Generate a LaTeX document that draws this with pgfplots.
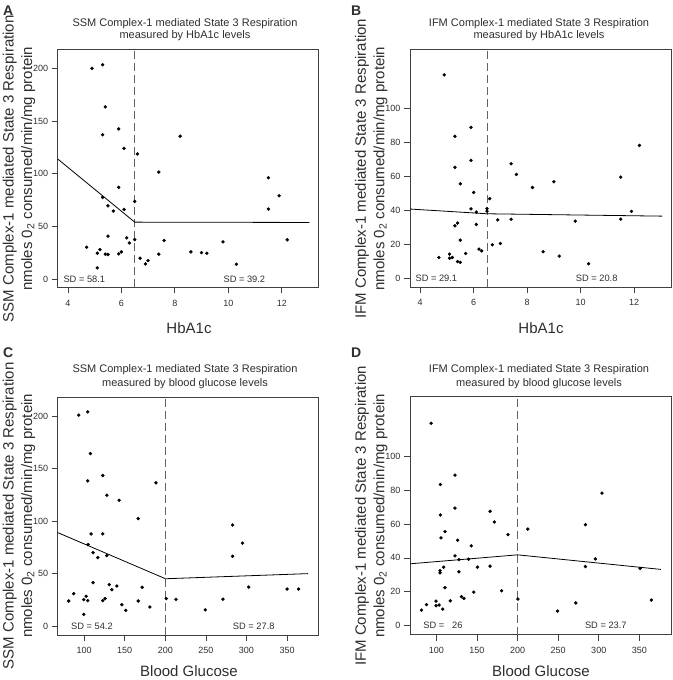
\documentclass[border=0pt]{standalone}
\usepackage{fontspec}
\setmainfont{Liberation Sans}
\usepackage{pgfplots}
\pgfplotsset{compat=1.18}
\definecolor{axgray}{HTML}{404040}
\definecolor{txtgray}{HTML}{2E2E2E}
\pgfplotsset{
  panel/.style={
    scale only axis, width=261pt, height=238pt,
    axis line style={axgray, line width=0.8pt},
    tick style={axgray, line width=0.7pt},
    tick align=outside, major tick length=6pt,
    xtick pos=left, ytick pos=left,
    tick label style={font=\fontsize{9}{10}\selectfont, text=txtgray},
    /pgf/number format/assume math mode=true,
    yticklabel style={xshift=0pt},
    xticklabel style={yshift=-3pt},
  },
  pts/.style={only marks, mark=*, mark size=1.5pt, black},
  fitline/.style={black, line width=0.8pt, no marks},
  vdash/.style={black!62, line width=1pt, dash pattern=on 8pt off 4pt, no marks},
}
\tikzset{
  sd/.style={font=\fontsize{9.3}{10}\selectfont, text=txtgray, inner sep=0pt},
  plab/.style={anchor=base west, inner sep=0pt, font=\bfseries\fontsize{14}{16}\selectfont, text=txtgray},
  ttl/.style={anchor=base, inner sep=0pt, font=\fontsize{11}{13}\selectfont, text=txtgray},
  ylab/.style={anchor=base, inner sep=0pt, rotate=90, font=\fontsize{15}{17}\selectfont, text=txtgray},
  xlab/.style={anchor=base, inner sep=0pt, font=\fontsize{15}{17}\selectfont, text=txtgray},
}
\begin{document}
\begin{tikzpicture}
\useasboundingbox (0,0) rectangle (672pt,-680pt);
% ---------------- Panel A ----------------
\begin{axis}[panel, at={(57.7pt,-287.3pt)}, anchor=south west,
  xmin=3.62, xmax=13.38, ymin=-7.6, ymax=218.1,
  xtick={4,6,8,10,12}, ytick={0,50,100,150,200}]
\addplot[vdash] coordinates {(6.5,-7.6) (6.5,218.1)};
\addplot[fitline] coordinates {(3.62,114.1) (6.5,54.2) (13.03,53.9)};
\addplot[pts] coordinates {
(4.9,200) (5.3,203.5) (5.4,163.5) (5.3,137) (5.9,142.6) (6.1,124.2) (6.6,118.9)
(8.2,135.7) (7.4,101.7) (5.9,87.2) (5.3,77.7) (5.5,69.7) (5.7,64.7) (6.1,66.2)
(6.5,73.8) (5.5,40.9) (4.7,30.4) (5.2,28.2) (5.1,24.7) (5.4,23.8) (5.5,23.5)
(5.1,10.8) (5.9,24.1) (6.0,26) (6.2,39.3) (6.3,34.5) (6.5,37.7) (6.7,20)
(6.9,14.6) (7.0,17.7) (7.4,23.8) (7.6,36.8) (8.6,26) (9.0,25.3) (9.2,24.7)
(9.8,35.5) (10.3,14.3) (11.5,96.3) (11.9,79.2) (11.5,66.6) (12.2,37.4)};
\node[sd, anchor=west] at (axis cs:3.83,0) {SD = 58.1};
\node[sd] at (axis cs:10.6,0) {SD = 39.2};
\end{axis}
% ---------------- Panel B ----------------
\begin{axis}[panel, at={(410pt,-287pt)}, anchor=south west,
  xmin=3.62, xmax=13.38, ymin=-5.2, ymax=135.2,
  xtick={4,6,8,10,12}, ytick={0,20,40,60,80,100}]
\addplot[vdash] coordinates {(6.5,-5.2) (6.5,135.2)};
\addplot[fitline] coordinates {(3.62,40.8) (6.5,38) (13.05,36.6)};
\addplot[pts] coordinates {
(4.9,119.9) (5.3,83.7) (5.9,89) (5.9,69.5) (5.3,65.4) (5.5,55.7) (6.0,50.6)
(5.9,40.9) (6.1,39) (6.5,39.6) (6.5,41) (6.6,46.9) (5.3,30.9) (5.4,32.5)
(6.1,31.7) (6.9,34.4) (7.4,34.8) (7.4,67.5) (7.6,61.2) (8.2,53.5) (9.0,56.9)
(9.8,33.7) (11.5,59.6) (11.5,34.8) (11.9,39.4) (12.2,78.3) (5.5,22.4)
(4.7,12.2) (5.1,14.2) (5.1,11.8) (5.2,12.2) (5.4,9.8) (5.5,9.3) (5.7,14.6)
(6.2,17.1) (6.3,16.1) (6.7,19.7) (7.0,20.5) (8.6,15.6) (9.2,13) (10.3,8.5)};
\node[sd, anchor=west] at (axis cs:3.82,0) {SD = 29.1};
\node[sd] at (axis cs:10.6,0) {SD = 20.8};
\end{axis}
% ---------------- Panel C ----------------
\begin{axis}[panel, at={(57.7pt,-635pt)}, anchor=south west,
  xmin=67.5, xmax=389, ymin=-8.6, ymax=218.2,
  xtick={100,150,200,250,300,350}, ytick={0,50,100,150,200}]
\addplot[vdash] coordinates {(200,-8.6) (200,218.2)};
\addplot[fitline] coordinates {(67.5,89) (200,45.1)};
\addplot[fitline] coordinates {(200,45) (376,49.9)};
\addplot[pts] coordinates {
(93.4,200.9) (104.5,204) (107.8,164.3) (104.5,138.3) (123,143.4) (128,124.6)
(143.2,119.8) (188.5,136.4) (166.7,102.4) (108.6,87.7) (123,87.7) (104.9,77.6)
(111.1,69.9) (116.9,65.2) (128,67.1) (111.1,41.3) (81.1,23.8) (87.2,30.8)
(99.6,25.1) (102.5,28.3) (104.5,24.2) (99.6,11.1) (123,24.2) (125.9,26.1)
(130.9,39.4) (134.2,34.6) (140.3,38.1) (146.5,20.3) (151.4,14.9) (166.7,23.8)
(171.6,36.9) (181.1,18.1) (201.2,26.1) (213.2,25.4)
(282.9,96.2) (295.1,79) (282.9,66.4) (302.8,37.1) (350,35.2) (364.2,35.2)
(271.1,25.5) (249.2,15.4)};
\node[sd, anchor=west] at (axis cs:83.8,0) {SD = 54.2};
\node[sd] at (axis cs:309,0) {SD = 27.8};
\end{axis}
% ---------------- Panel D ----------------
\begin{axis}[panel, at={(410pt,-634.5pt)}, anchor=south west,
  xmin=67.5, xmax=389, ymin=-5.2, ymax=135.2,
  xtick={100,150,200,250,300,350}, ytick={0,20,40,60,80,100}]
\addplot[vdash] coordinates {(200,-5.2) (200,135.2)};
\addplot[fitline] coordinates {(67.5,36.5) (200,41.8) (376.6,33.2)};
\addplot[pts] coordinates {
(93.5,119.4) (104.9,83.3) (122.9,88.8) (122.9,69.4) (104.9,65.3) (110.6,55.5)
(105.7,51.8) (126.1,50.4) (142.9,47.1) (122.9,41.2) (127.8,39) (139.6,39.2)
(109,34.5) (104.5,32.5) (104.5,31.2) (127.8,31.8) (150.6,34.5) (166.1,35.1)
(166.1,67.5) (171.4,61.2) (188.2,53.7) (212.6,57) (110.6,22.4) (81.6,9.2)
(87.8,12.4) (99.6,14.5) (99.6,11.8) (103.3,12.2) (107.8,9.8) (117.1,14.7)
(130.9,17.1) (133.9,16.1) (146.1,19.8) (180.4,20.6) (200.4,15.7)
(304,78.2) (283.6,59.6) (295.8,39.4) (283.6,34.9) (350.9,33.8) (364.8,15.1)
(271.7,13.4) (249.3,8.6)};
\node[sd, anchor=west] at (axis cs:83.8,0) {SD =\hspace{0.834em}26};
\node[sd] at (axis cs:308.7,0) {SD = 23.7};
\end{axis}
% ---------------- Text ----------------
\node[plab] at (3pt,-15pt) {A};
\node[plab] at (351pt,-15pt) {B};
\node[plab] at (3pt,-357.5pt) {C};
\node[plab] at (351pt,-357.5pt) {D};
\node[ttl] at (185pt,-26.5pt) {SSM Complex-1 mediated State 3 Respiration};
\node[ttl] at (185pt,-38.5pt) {measured by HbA1c levels};
\node[ttl] at (539pt,-26.5pt) {IFM Complex-1 mediated State 3 Respiration};
\node[ttl] at (539pt,-38.5pt) {measured by HbA1c levels};
\node[ttl] at (185pt,-372.8pt) {SSM Complex-1 mediated State 3 Respiration};
\node[ttl] at (185pt,-386.2pt) {measured by blood glucose levels};
\node[ttl] at (539pt,-372.8pt) {IFM Complex-1 mediated State 3 Respiration};
\node[ttl] at (539pt,-386.2pt) {measured by blood glucose levels};
\node[ylab] at (13.5pt,-168.7pt) {SSM Complex-1 mediated State 3 Respiration};
\node[ylab] at (32pt,-168.7pt) {nmoles 0\textsubscript{2} consumed/min/mg protein};
\node[ylab] at (365.8pt,-168.7pt) {IFM Complex-1 mediated State 3 Respiration};
\node[ylab] at (384.3pt,-168.7pt) {nmoles 0\textsubscript{2} consumed/min/mg protein};
\node[ylab] at (13.5pt,-515.9pt) {SSM Complex-1 mediated State 3 Respiration};
\node[ylab] at (32pt,-515.9pt) {nmoles 0\textsubscript{2} consumed/min/mg protein};
\node[ylab] at (365.8pt,-515.9pt) {IFM Complex-1 mediated State 3 Respiration};
\node[ylab] at (384.3pt,-515.9pt) {nmoles 0\textsubscript{2} consumed/min/mg protein};
\node[xlab] at (189pt,-333.5pt) {HbA1c};
\node[xlab] at (541pt,-333.5pt) {HbA1c};
\node[xlab] at (189pt,-676pt) {Blood Glucose};
\node[xlab] at (541pt,-676pt) {Blood Glucose};
\end{tikzpicture}
\end{document}
